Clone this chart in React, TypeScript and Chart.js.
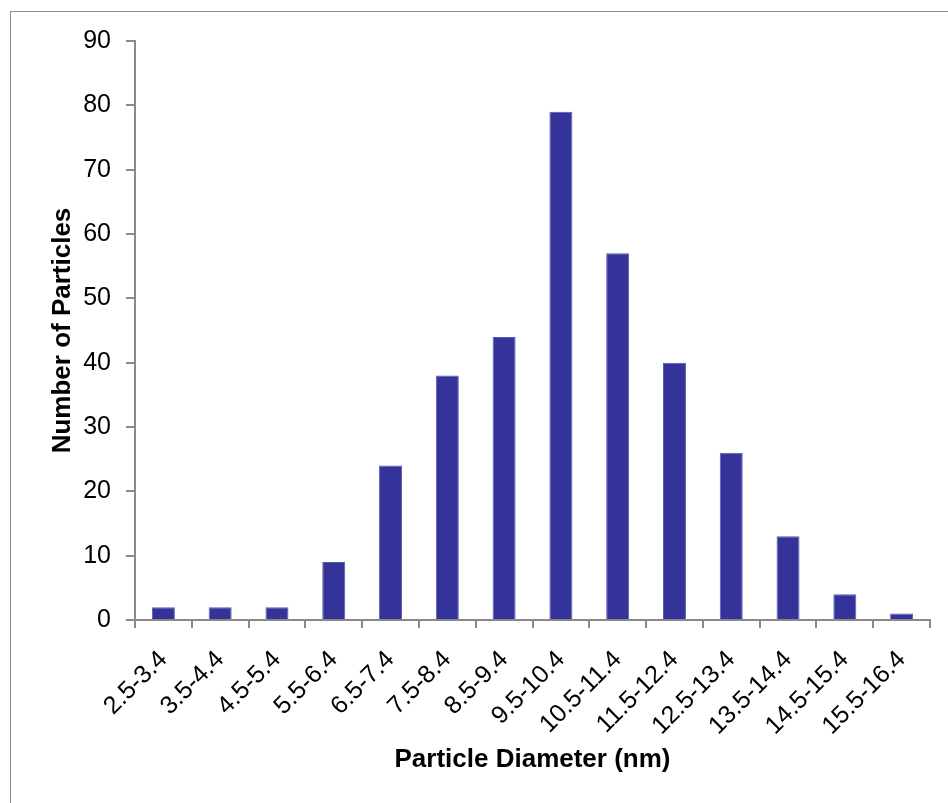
import React, { useEffect, useRef } from "react";
import { Chart, registerables } from "chart.js";

Chart.register(...registerables);

const categories = [
  "2.5-3.4", "3.5-4.4", "4.5-5.4", "5.5-6.4", "6.5-7.4", "7.5-8.4", "8.5-9.4",
  "9.5-10.4", "10.5-11.4", "11.5-12.4", "12.5-13.4", "13.5-14.4", "14.5-15.4", "15.5-16.4",
];
const counts = [2, 2, 2, 9, 24, 38, 44, 79, 57, 40, 26, 13, 4, 1];
const yMin = 0;
const yMax = 90;
const yStep = 10;
const xTitle = "Particle Diameter (nm)";
const yTitle = "Number of Particles";

export default function App() {
  const ref = useRef<HTMLCanvasElement>(null);
  useEffect(() => {
    const ctx = ref.current!;
    const axisColor = "#898989";
    const chart = new Chart(ctx, {
      type: "bar",
      data: {
        labels: categories,
        datasets: [
          {
            data: counts,
            backgroundColor: "#333399",
            borderColor: "#5a5ab0",
            borderWidth: 1,
            barPercentage: 0.405,
            categoryPercentage: 1,
          },
        ],
      },
      options: {
        animation: false,
        responsive: false,
        maintainAspectRatio: false,
        layout: { padding: { left: 47, top: 41, right: 18, bottom: 28 } },
        plugins: { legend: { display: false }, tooltip: { enabled: false } },
        scales: {
          x: {
            grid: {
              display: true,
              drawOnChartArea: false,
              drawTicks: true,
              tickLength: 8,
              color: axisColor,
              lineWidth: 2,
              offset: true,
            },
            border: { display: true, color: axisColor, width: 2 },
            ticks: {
              minRotation: 45,
              maxRotation: 45,
              autoSkip: false,
              color: "#000",
              padding: 17,
              font: { family: "'Liberation Sans', Arial, sans-serif", size: 25 },
            },
            title: {
              display: true,
              text: xTitle,
              color: "#000",
              padding: 0,
              font: { family: "'Liberation Sans', Arial, sans-serif", size: 26, weight: "bold" },
            },
            afterFit: (s: any) => {
              s.height = 803 - 28 - 620;
            },
          },
          y: {
            min: yMin,
            max: yMax,
            ticks: {
              stepSize: yStep,
              color: "#000",
              padding: 15,
              font: { family: "'Liberation Sans', Arial, sans-serif", size: 25 },
            },
            grid: {
              display: true,
              drawOnChartArea: false,
              drawTicks: true,
              tickLength: 9,
              color: axisColor,
              lineWidth: 2,
            },
            border: { display: true, color: axisColor, width: 2 },
            title: {
              display: true,
              text: yTitle,
              color: "#000",
              padding: 0,
              font: { family: "'Liberation Sans', Arial, sans-serif", size: 26, weight: "bold" },
            },
            afterFit: (s: any) => {
              s.width = 135 - 47;
            },
          },
        },
      },
    });
    return () => chart.destroy();
  }, []);

  return (
    <div style={{ position: "absolute", left: 0, top: 0, width: 948, height: 803, background: "#fff" }}>
      <div
        style={{
          position: "absolute",
          left: 10,
          top: 11,
          right: 0,
          bottom: 0,
          borderLeft: "1px solid #8c8c8c",
          borderTop: "1px solid #8c8c8c",
        }}
      />
      <canvas ref={ref} width={948} height={803} style={{ position: "absolute", left: 0, top: 0 }} />
    </div>
  );
}
